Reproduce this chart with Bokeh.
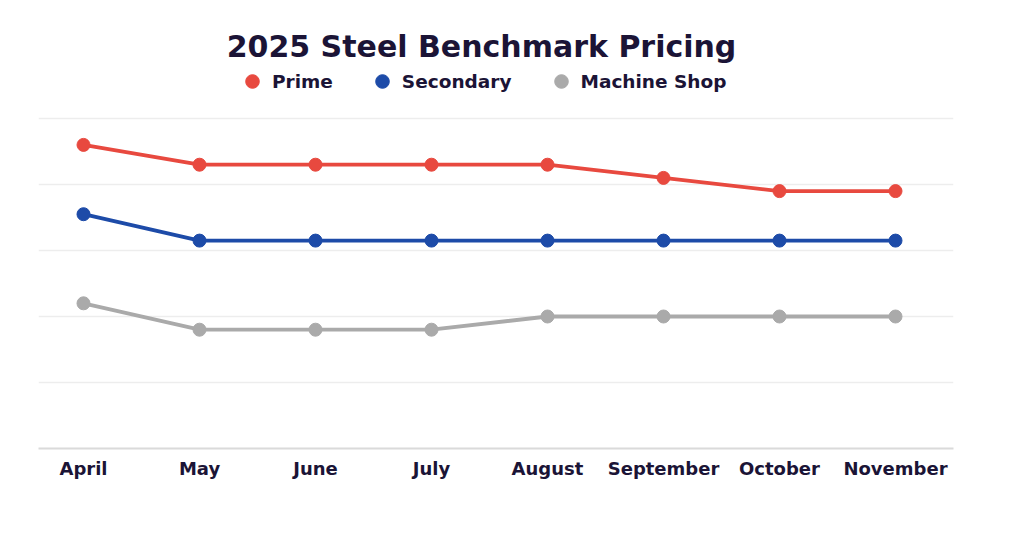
from bokeh.plotting import figure
from bokeh.models import FixedTicker, Label, Legend, LegendItem, Range1d
from bokeh.embed import file_html
from bokeh.resources import INLINE

months = ["April", "May", "June", "July", "August", "September", "October", "November"]
prime = [92, 86, 86, 86, 86, 82, 78, 78]
secondary = [71, 63, 63, 63, 63, 63, 63, 63]
machine_shop = [44, 36, 36, 36, 40, 40, 40, 40]
y_ticks = [0, 20, 40, 60, 80, 100]

series = [("Prime", prime, "#E8493F"),
          ("Secondary", secondary, "#1D4BA8"),
          ("Machine Shop", machine_shop, "#AAAAAA")]

TEXT = "#1B1436"
FONT = "DejaVu Sans"

xs = list(range(len(months)))

# frame spans the full top area so that title/legend annotations are not clipped
p = figure(width=1024, height=534, output_backend="svg", toolbar_location=None,
           title=None, x_range=Range1d(-0.388, 7.5), y_range=Range1d(0, 135.76),
           min_border_left=38, min_border_right=71, min_border_top=0, min_border_bottom=86)
p.outline_line_color = None
p.background_fill_color = "white"
p.border_fill_color = "white"

p.yaxis.visible = False
p.ygrid.ticker = FixedTicker(ticks=y_ticks)
p.ygrid.grid_line_color = "#EDEDED"
p.ygrid.grid_line_width = 1.5
p.xgrid.visible = False

p.xaxis.ticker = FixedTicker(ticks=xs)
p.xaxis.major_label_overrides = {i: m for i, m in enumerate(months)}
p.xaxis.major_tick_line_color = None
p.xaxis.minor_tick_line_color = None
p.xaxis.axis_line_color = "#DADADA"
p.xaxis.axis_line_width = 2
p.xaxis.major_label_standoff = 3
p.xaxis.major_label_text_font = FONT
p.xaxis.major_label_text_font_style = "bold"
p.xaxis.major_label_text_font_size = "18px"
p.xaxis.major_label_text_color = TEXT

items = []
for name, vals, color in series:
    p.line(xs, vals, line_color=color, line_width=3.8)
    r = p.scatter(xs, vals, size=13, fill_color=color, line_color=color)
    items.append(LegendItem(label=name, renderers=[r]))

legend = Legend(items=items, orientation="horizontal", location=(197, 350),
                glyph_width=34, glyph_height=34, label_standoff=3, spacing=32,
                padding=0, margin=0, border_line_color=None, background_fill_alpha=0,
                label_text_font=FONT, label_text_font_style="bold",
                label_text_font_size="18.5px", label_text_color=TEXT)
p.add_layout(legend, "center")

title = Label(x=443, y=402, x_units="screen", y_units="screen",
              text="2025 Steel Benchmark Pricing", text_align="center",
              text_baseline="middle", text_font=FONT, text_font_style="bold",
              text_font_size="30px", text_color=TEXT)
p.add_layout(title)

open("out.html", "w").write(file_html(p, INLINE))
